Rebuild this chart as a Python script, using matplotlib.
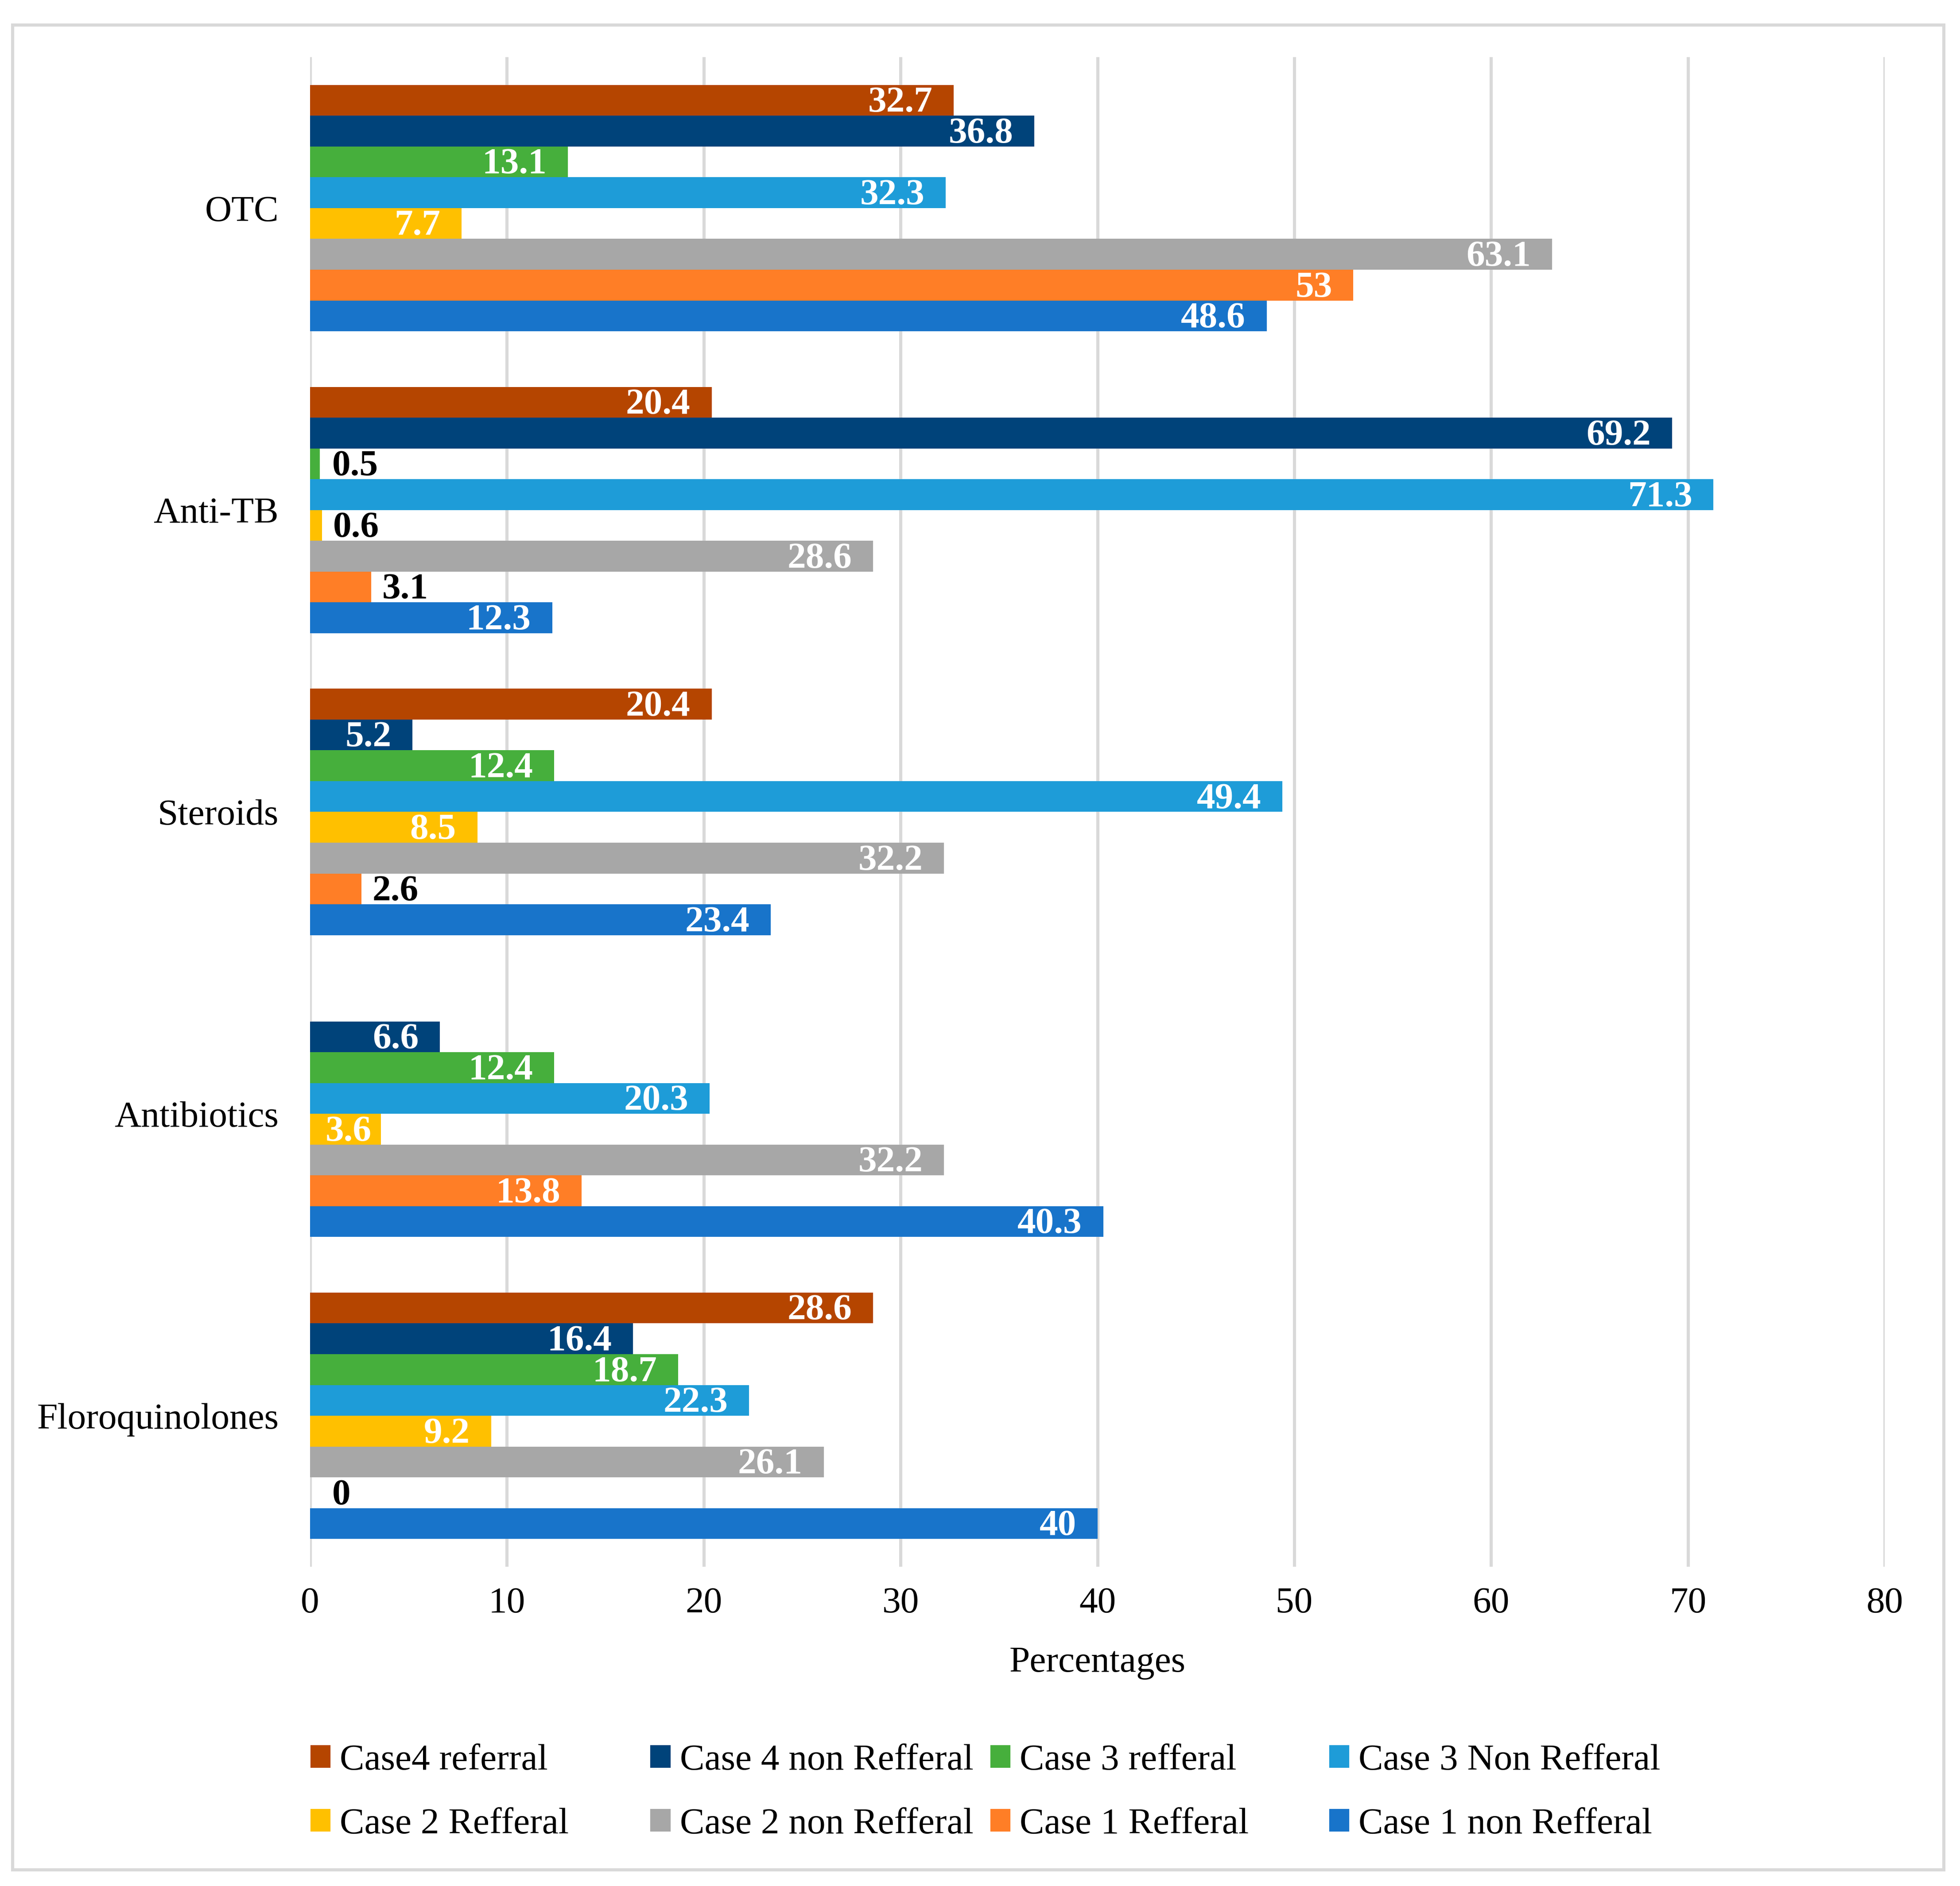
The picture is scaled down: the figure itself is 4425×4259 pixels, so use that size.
import numpy as np
import matplotlib
matplotlib.use("Agg")
import matplotlib.pyplot as plt
from matplotlib.patches import Rectangle, Patch

plt.rcParams['font.family'] = ['Liberation Serif', 'DejaVu Serif']

# categories from bottom to top
categories = ["Floroquinolones", "Antibiotics", "Steroids", "Anti-TB", "OTC"]

# series values (same order as categories), nan = no bar
case1_non_ref = [40, 40.3, 23.4, 12.3, 48.6]
case1_ref = [0, 13.8, 2.6, 3.1, 53]
case2_non_ref = [26.1, 32.2, 32.2, 28.6, 63.1]
case2_ref = [9.2, 3.6, 8.5, 0.6, 7.7]
case3_non_ref = [22.3, 20.3, 49.4, 71.3, 32.3]
case3_ref = [18.7, 12.4, 12.4, 0.5, 13.1]
case4_non_ref = [16.4, 6.6, 5.2, 69.2, 36.8]
case4_ref = [28.6, np.nan, 20.4, 20.4, 32.7]

# bottom -> top inside each group
series = [case1_non_ref, case1_ref, case2_non_ref, case2_ref,
          case3_non_ref, case3_ref, case4_non_ref, case4_ref]
names = ["Case 1 non Refferal", "Case 1 Refferal", "Case 2 non Refferal", "Case 2 Refferal",
         "Case 3 Non Refferal", "Case 3 refferal", "Case 4 non Refferal", "Case4 referral"]
colors = ["#1874CA", "#FF7E26", "#A7A7A7", "#FFC000",
          "#1E9CD8", "#46AF3C", "#00437A", "#B54500"]

fig = plt.figure(figsize=(4425 / 300, 4259 / 300), dpi=300)
ax = fig.add_axes([0.1582, 0.1693, 0.9616 - 0.1582, 0.9697 - 0.1693])

h = 0.102
ypos = np.arange(len(categories))
for i, vals in enumerate(series):
    vals = np.array(vals, dtype=float)
    ok = ~np.isnan(vals)
    y = ypos + (i - 3.5) * h
    ax.barh(y[ok], vals[ok], height=h, color=colors[i], zorder=2)
    for yy, v in zip(y[ok], vals[ok]):
        if v >= 3.5:
            dx = -11.5 if v >= 5 else -5
            ax.annotate("{:g}".format(v), xy=(v, yy), xytext=(dx, -1.5), textcoords="offset points",
                        ha="right", va="center", color="white", fontweight="bold", fontsize=20, zorder=3)
        else:
            ax.annotate("{:g}".format(v), xy=(max(v, 0.55), yy), xytext=(6, -1.5), textcoords="offset points",
                        ha="left", va="center", color="black", fontweight="bold", fontsize=20, zorder=3)

ax.set_xlim(0, 80)
ax.set_ylim(-0.5, 4.5)
ax.set_xticks(np.arange(0, 81, 10))
ax.set_yticks(ypos)
ax.set_yticklabels(categories)
ax.tick_params(axis="both", length=0, labelsize=20)
ax.tick_params(axis="x", pad=11)
ax.tick_params(axis="y", pad=17)
ax.grid(axis="x", color="#D9D9D9", linewidth=1.7, zorder=0)
ax.set_axisbelow(True)
for s in ax.spines.values():
    s.set_visible(False)

ax.set_xlabel("Percentages", fontsize=20)
ax.xaxis.set_label_coords(0.5, -0.0637)
ax.xaxis.label.set_va("center")

# legend laid out like Excel: 4 fixed columns, 2 rows
cols = [(7, 3), (6, 2), (5, 1), (4, 0)]
xs = [0.1588, 0.3323, 0.5057, 0.6786]
for (a, b), x in zip(cols, xs):
    handles = [Patch(color=colors[a]), Patch(color=colors[b])]
    fig.legend(handles, [names[a], names[b]], loc="center left", bbox_to_anchor=(x, 0.0495),
               frameon=False, fontsize=20, borderpad=0, borderaxespad=0,
               handlelength=0.5, handleheight=0.5, handletextpad=0.27, labelspacing=0.82)

border = Rectangle((28 / 4425, 1 - 4222 / 4259), (4388 - 28) / 4425, (4222 - 56) / 4259,
                   transform=fig.transFigure, fill=False, edgecolor="#D9D9D9", linewidth=1.7)
fig.add_artist(border)

fig.savefig("out.png", dpi=300)
